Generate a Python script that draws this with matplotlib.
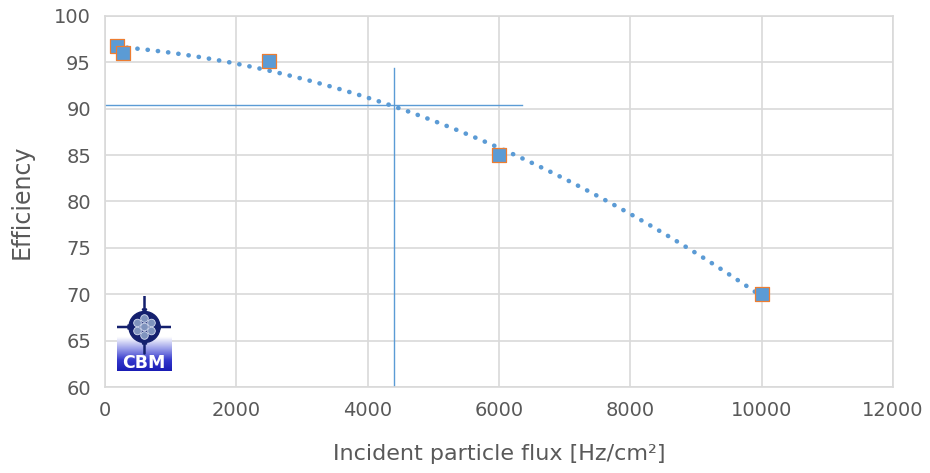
import numpy as np
import matplotlib
matplotlib.use("Agg")
import matplotlib.pyplot as plt
from matplotlib.patches import Circle, FancyArrow
from matplotlib.colors import LinearSegmentedColormap

# Measured efficiency vs. incident particle flux
flux = [180, 280, 2500, 6000, 10000]
efficiency = [96.8, 96.0, 95.2, 85.0, 70.0]

# Working point marked with cross-hair lines
wp_flux = 4400
wp_eff = 90.45
hline_end = 6350
vline_top = 94.4

x_ticks = [0, 2000, 4000, 6000, 8000, 10000, 12000]
y_ticks = [60, 65, 70, 75, 80, 85, 90, 95, 100]

blue = "#5b9bd5"
orange = "#ed7d31"
grid_c = "#d9d9d9"
text_c = "#595959"

plt.rcParams['font.family'] = ['DejaVu Sans']

fig = plt.figure(figsize=(9.3, 4.73), dpi=100)
ax = fig.add_axes([105/930, 1-387/473, (893-105)/930, (387-16)/473])

# second-order polynomial trend line through the measurements
coef = np.polyfit(flux, efficiency, 2)
xs = np.linspace(min(flux), max(flux), 400)
ax.plot(xs, np.polyval(coef, xs), linestyle=(0, (0.05, 2.2)), color=blue,
        linewidth=3.3, dash_capstyle='round', zorder=3)

ax.scatter(flux, efficiency, marker='s', s=100, facecolor=blue,
           edgecolor=orange, linewidth=0.9, zorder=4)

ax.plot([0, hline_end], [wp_eff, wp_eff], color=blue, linewidth=1.0, zorder=2)
ax.plot([wp_flux, wp_flux], [60, vline_top], color=blue, linewidth=1.0, zorder=2)

ax.set_xlim(0, 12000)
ax.set_ylim(60, 100)
ax.set_xticks(x_ticks)
ax.set_yticks(y_ticks)
ax.grid(True, color=grid_c, linewidth=1.2)
ax.set_axisbelow(True)
for s in ax.spines.values():
    s.set_color(grid_c)
    s.set_linewidth(1.2)
ax.tick_params(length=0, colors=text_c, labelsize=14, pad=10)
ax.set_xlabel("Incident particle flux [Hz/cm²]", fontsize=16, color=text_c, labelpad=17)
ax.set_ylabel("Efficiency", fontsize=17, color=text_c, labelpad=15)

# CBM logo
lg = fig.add_axes([117/930, 1-371/473, 54/930, 75/473])
lg.set_xlim(0, 54)
lg.set_ylim(0, 75)
lg.axis('off')
grad = np.linspace(0, 1, 200).reshape(-1, 1)
cm = LinearSegmentedColormap.from_list(
    'g', [(0, '#1a1db5'), (0.15, '#3438cc'), (0.32, '#9ea2ea'), (0.48, '#ffffff'), (1, '#ffffff')])
lg.imshow(grad, extent=[0, 54, 0, 70], cmap=cm, aspect='auto', origin='lower', zorder=0)
lg.add_patch(Circle((27.5, 44), 15.5, color='#14206e', zorder=2))
balls = [(0, 0), (7, 4), (-7, 4), (7, -4), (-7, -4), (0, 8.5), (0, -8.5)]
for (dx, dy) in balls:
    lg.add_patch(Circle((27.5+dx, 44+dy), 3.8, facecolor='#7f93bd', edgecolor='#d8e0f2',
                        linewidth=0.6, zorder=3))
arrow_kw = dict(width=1.1, head_width=4.5, head_length=4, color='#14206e', zorder=2)
lg.add_patch(FancyArrow(27.5, 75, 0, -13, **arrow_kw))
lg.add_patch(FancyArrow(27.5, 17, 0, 10, **arrow_kw))
lg.add_patch(FancyArrow(0, 44, 11, 0, **arrow_kw))
lg.add_patch(FancyArrow(54, 44, -11, 0, **arrow_kw))
lg.text(27, 8.5, "CBM", color='white', fontsize=12.5, fontweight='bold',
        ha='center', va='center', family='DejaVu Sans', zorder=4)

fig.savefig("out.png", dpi=100, facecolor='white')
